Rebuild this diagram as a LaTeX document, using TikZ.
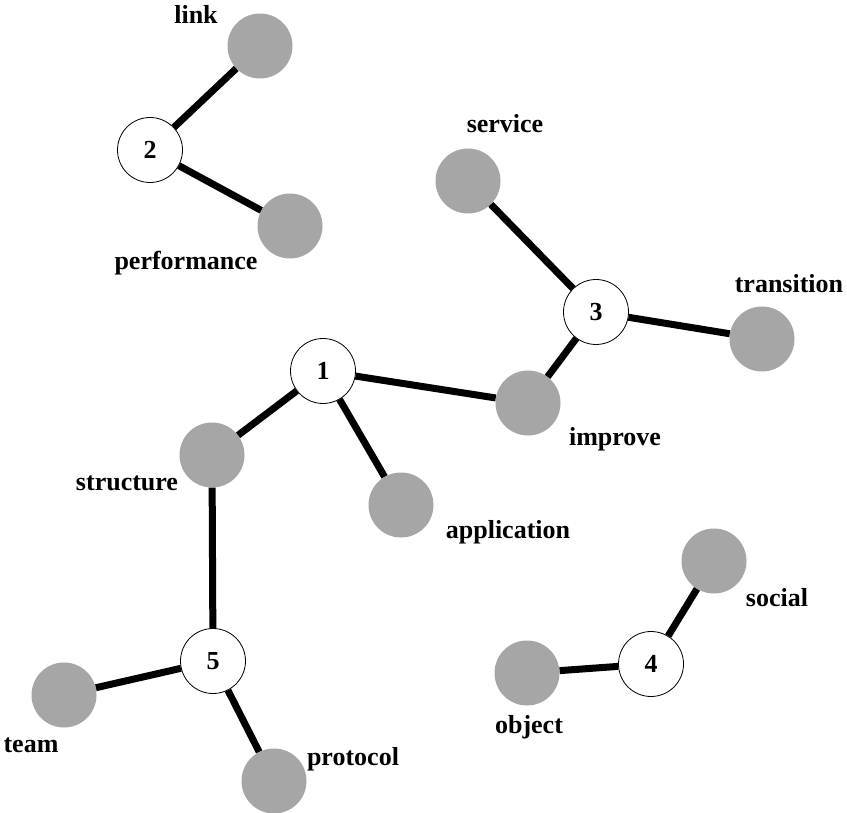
\documentclass[tikz,border=0pt]{standalone}
\usepackage{fontspec}
\setmainfont{Liberation Serif}
\begin{document}
\begin{tikzpicture}[x=1pt,y=-1pt,
  hub/.style={circle,draw=black,line width=0.8pt,fill=white,minimum size=65pt,inner sep=0pt,font=\fontsize{26}{26}\selectfont\bfseries},
  leaf/.style={circle,fill=leafgray,draw=none,minimum size=65pt,inner sep=0pt},
  lbl/.style={anchor=base,inner sep=0pt,font=\fontsize{26}{26}\selectfont\bfseries},
  edge/.style={line width=7pt}]
\definecolor{leafgray}{RGB}{166,166,166}
\useasboundingbox (0,0) rectangle (847,813);
% leaves
\node[leaf] (link) at (260,46) {};
\node[leaf] (perf) at (290,226) {};
\node[leaf] (serv) at (468,181) {};
\node[leaf] (trans) at (762,339) {};
\node[leaf] (impr) at (528,403) {};
\node[leaf] (struc) at (212,455) {};
\node[leaf] (appl) at (401,505) {};
\node[leaf] (team) at (64,695) {};
\node[leaf] (prot) at (274,781) {};
\node[leaf] (soc) at (714,561) {};
\node[leaf] (obj) at (527,673) {};
% hubs
\node[hub] (n1) at (323,371) {1};
\node[hub] (n2) at (150,150) {2};
\node[hub] (n3) at (596,312) {3};
\node[hub] (n4) at (651,664) {4};
\node[hub] (n5) at (213,661) {5};
% edges
\draw[edge] (n2) -- (link);
\draw[edge] (n2) -- (perf);
\draw[edge] (n3) -- (serv);
\draw[edge] (n3) -- (trans);
\draw[edge] (n3) -- (impr);
\draw[edge] (n1) -- (impr);
\draw[edge] (n1) -- (struc);
\draw[edge] (n1) -- (appl);
\draw[edge] (struc) -- (n5);
\draw[edge] (n5) -- (team);
\draw[edge] (n5) -- (prot);
\draw[edge] (n4) -- (soc);
\draw[edge] (n4) -- (obj);
% labels
\node[lbl] (tlink) at (196,24) {link};
\node[lbl] (tperf) at (186,270) {performance};
\node[lbl] (tserv) at (505,133) {service};
\node[lbl] (ttrans) at (789,293) {transition};
\node[lbl] (timpr) at (615,445) {improve};
\node[lbl] (tstruc) at (127,490) {structure};
\node[lbl] (tappl) at (508,538) {application};
\node[lbl] (tteam) at (31,752) {team};
\node[lbl] (tprot) at (353,765) {protocol};
\node[lbl] (tsoc) at (777,606) {social};
\node[lbl] (tobj) at (529,733) {object};
\end{tikzpicture}
\end{document}
